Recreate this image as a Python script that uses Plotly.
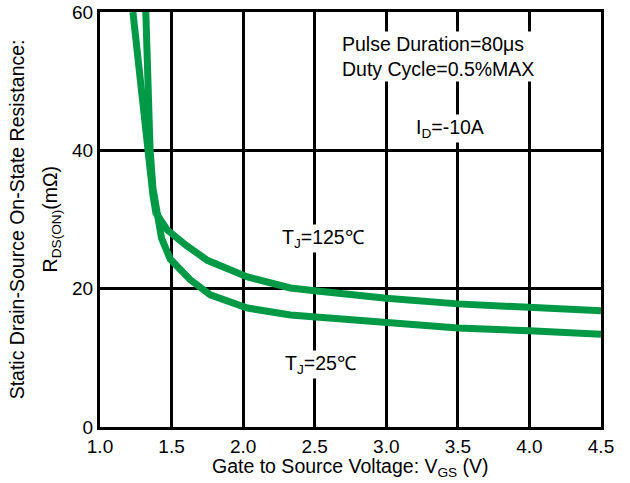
import plotly.graph_objects as go

# Data
vgs_125 = [1.23, 1.27, 1.31, 1.345, 1.37, 1.39, 1.47, 1.60, 1.75, 2.03, 2.33, 2.50, 3.00, 3.50, 4.00, 4.50]
rds_125 = [60, 52, 44, 38, 33.5, 31, 28.5, 26.3, 24.1, 21.7, 20.1, 19.7, 18.6, 17.8, 17.2, 16.8]

vgs_25 = [1.32, 1.33, 1.34, 1.35, 1.37, 1.395, 1.43, 1.49, 1.63, 1.77, 2.03, 2.33, 2.50, 3.00, 3.50, 4.00, 4.50]
rds_25 = [60, 52, 45, 40, 34.5, 30.8, 27.3, 24.3, 21.3, 19.1, 17.2, 16.2, 15.9, 15.0, 14.3, 13.9, 13.4]

x_ticks = [1.0, 1.5, 2.0, 2.5, 3.0, 3.5, 4.0, 4.5]
y_ticks = [0, 20, 40, 60]

GREEN = "#009A46"
FONT = "Liberation Sans, Arial, sans-serif"

fig = go.Figure()
fig.add_trace(go.Scatter(x=vgs_125, y=rds_125, mode="lines",
                         line=dict(color=GREEN, width=7), name="TJ=125℃"))
fig.add_trace(go.Scatter(x=vgs_25, y=rds_25, mode="lines",
                         line=dict(color=GREEN, width=7), name="TJ=25℃"))

ann_font = dict(family=FONT, size=19.5, color="black")
fig.update_layout(
    width=630, height=483,
    margin=dict(l=100, r=29, t=12, b=56),
    paper_bgcolor="white", plot_bgcolor="white",
    showlegend=False,
    font=dict(family=FONT, size=19, color="black"),
    xaxis=dict(range=[1.0, 4.5], tickvals=x_ticks, ticktext=[f"{v:.1f}" for v in x_ticks],
               showgrid=True, gridcolor="black", gridwidth=2.5,
               showline=True, linecolor="black", linewidth=3, mirror=True,
               zeroline=False, ticks="", tickfont=dict(size=19), automargin=False),
    yaxis=dict(range=[0, 60], tickvals=y_ticks,
               showgrid=True, gridcolor="black", gridwidth=2.5,
               showline=True, linecolor="black", linewidth=3, mirror=True,
               zeroline=False, ticks="", tickfont=dict(size=19), automargin=False),
    annotations=[
        dict(x=0.5, y=-0.097, xref="paper", yref="paper",
             text="Gate to Source Voltage: V<sub>GS</sub> (V)",
             showarrow=False, font=ann_font, xanchor="center", yanchor="middle"),
        dict(x=-0.166, y=0.5, xref="paper", yref="paper", text="Static Drain-Source On-State Resistance:",
             textangle=-90, showarrow=False, font=ann_font, xanchor="center", yanchor="middle"),
        dict(x=-0.096, y=0.5, xref="paper", yref="paper", text="R<sub>DS(ON)</sub>(mΩ)",
             textangle=-90, showarrow=False, font=ann_font, xanchor="center", yanchor="middle"),
        dict(x=2.677, y=53.6, xref="x", yref="y", text="Pulse Duration=80μs<br>Duty Cycle=0.5%MAX",
             showarrow=False, font=ann_font, align="left", xanchor="left", yanchor="middle",
             bgcolor="white"),
        dict(x=3.446, y=43.2, xref="x", yref="y", text="I<sub>D</sub>=-10A",
             showarrow=False, font=ann_font, bgcolor="white"),
        dict(x=2.56, y=27.3, xref="x", yref="y", text="T<sub>J</sub>=125℃",
             showarrow=False, font=ann_font, bgcolor="white"),
        dict(x=2.54, y=9.0, xref="x", yref="y", text="T<sub>J</sub>=25℃",
             showarrow=False, font=ann_font, bgcolor="white"),
    ],
)

fig.write_html("out.html", config={"displayModeBar": False},
               post_script="document.body.style.margin='0';document.body.style.overflow='hidden';")
